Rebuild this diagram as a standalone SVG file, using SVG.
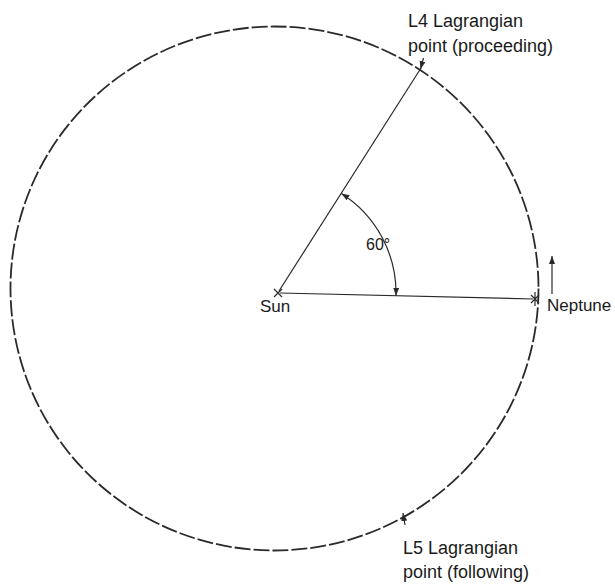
<svg xmlns="http://www.w3.org/2000/svg" width="615" height="588" viewBox="0 0 615 588">
<style>
.t{font-family:"Liberation Sans",Arial,sans-serif;fill:#1a1a1a}
.l{stroke:#2a2a2a;stroke-width:1.2;fill:none}
</style>
<defs>
<marker id="ah" markerUnits="userSpaceOnUse" markerWidth="9" markerHeight="7" refX="8" refY="3" orient="auto-start-reverse">
<path d="M0,0 L8,3 L0,6 z" fill="#2a2a2a"/>
</marker>
</defs>
<rect width="615" height="588" fill="#fff"/>
<g id="orbit">
<ellipse cx="274.5" cy="288.5" rx="264" ry="262" fill="none" stroke="#2a2a2a" stroke-width="1.8" stroke-dasharray="16 3"/>
</g>
<g id="connectors">
<line class="l" x1="280" y1="293" x2="533" y2="299"/>
<line class="l" x1="279" y1="291" x2="421" y2="68"/>
<path class="l" d="M341.4,193.5 A118,118 0 0 1 396,295.8" marker-start="url(#ah)" marker-end="url(#ah)"/>
<line class="l" x1="552" y1="294" x2="552" y2="256" marker-end="url(#ah)"/>
<line class="l" x1="423.5" y1="58" x2="420.5" y2="69" marker-end="url(#ah)"/>
<line class="l" x1="405" y1="525" x2="403" y2="513" marker-end="url(#ah)"/>
</g>
<g id="sun">
<path class="l" d="M274,289 L282,297 M282,289 L274,297" stroke-width="1.4"/>
<text class="t" x="260" y="312" font-size="17">Sun</text>
</g>
<g id="neptune">
<path class="l" d="M535,292 L535,306 M531,295 L539,303 M539,295 L531,303" stroke-width="1.4"/>
<text class="t" x="547" y="311" font-size="17">Neptune</text>
</g>
<g id="angle">
<text class="t" x="366" y="250" font-size="16">60°</text>
</g>
<g id="L4">
<text class="t" x="408" y="27" font-size="18">L4 Lagrangian</text>
<text class="t" x="408" y="52" font-size="18">point (proceeding)</text>
</g>
<g id="L5">
<text class="t" x="403" y="554" font-size="18">L5 Lagrangian</text>
<text class="t" x="403" y="578" font-size="18">point (following)</text>
</g>
</svg>
